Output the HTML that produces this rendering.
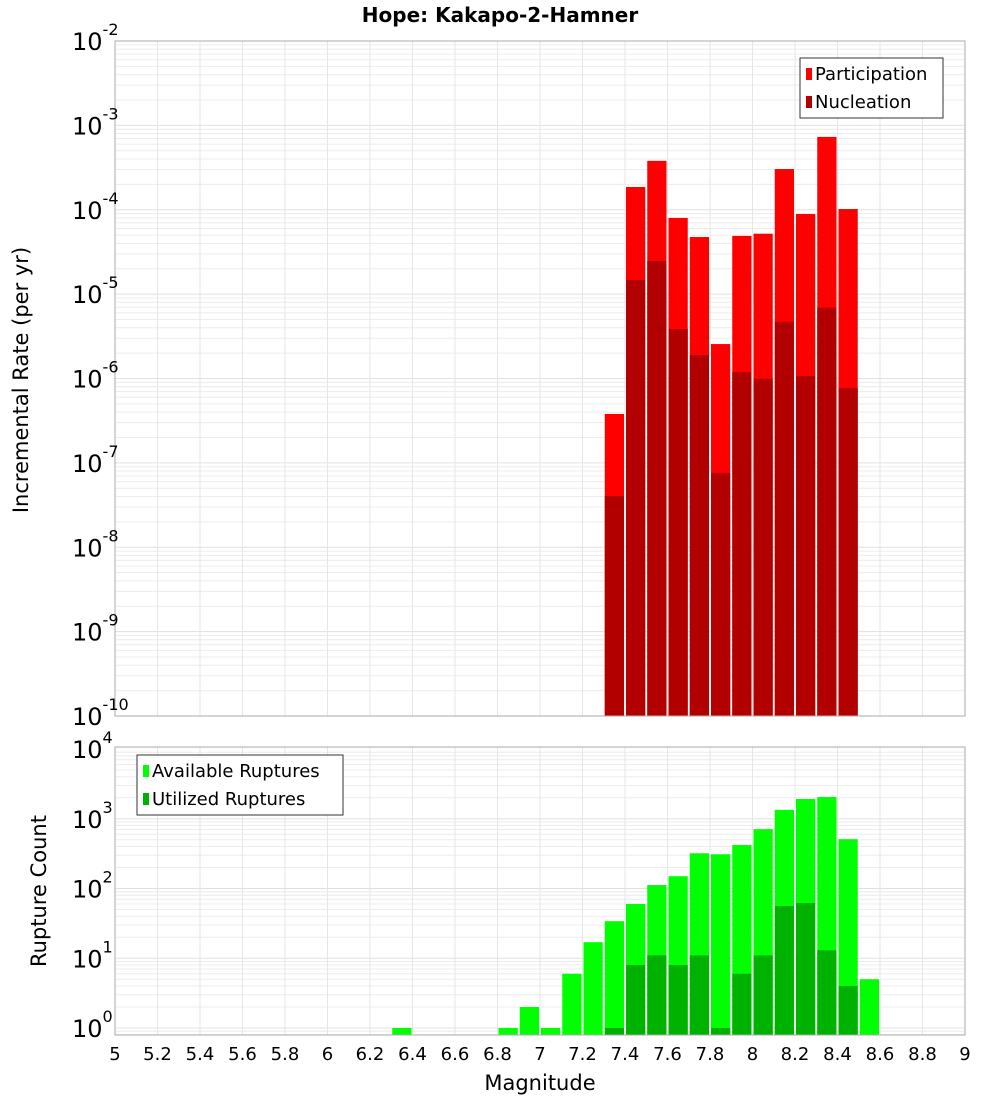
<!DOCTYPE html>
<html><head><meta charset="utf-8"><style>
body{margin:0;background:#fff}
svg{display:block;font-family:"DejaVu Sans","Liberation Sans",sans-serif}
</style></head><body>
<svg id="c" width="1000" height="1100" xmlns="http://www.w3.org/2000/svg">
<text x="500" y="22" text-anchor="middle" font-size="20" font-weight="bold">Hope: Kakapo-2-Hamner</text>
<text transform="translate(28,380) rotate(-90)" text-anchor="middle" font-size="21">Incremental Rate (per yr)</text>
<text transform="translate(46,891) rotate(-90)" text-anchor="middle" font-size="21">Rupture Count</text>
<text x="540" y="1090" text-anchor="middle" font-size="21">Magnitude</text>
<g id="g"></g>
</svg>
<script>
const bins=[7.35,7.45,7.55,7.65,7.75,7.85,7.95,8.05,8.15,8.25,8.35,8.45];
const participation=[3.8e-7,1.86e-4,3.8e-4,8.0e-5,4.75e-5,2.56e-6,4.9e-5,5.2e-5,3.04e-4,8.9e-5,7.3e-4,1.02e-4];
const nucleation=[4.05e-8,1.47e-5,2.47e-5,3.86e-6,1.9e-6,7.6e-8,1.19e-6,9.9e-7,4.7e-6,1.07e-6,6.9e-6,7.7e-7];
const countBins=[6.35,6.85,6.95,7.05,7.15,7.25,7.35,7.45,7.55,7.65,7.75,7.85,7.95,8.05,8.15,8.25,8.35,8.45,8.55];
const available=[1,1,2,1,6,17,34,60,112,150,320,310,420,710,1340,1920,2050,510,5];
const utilized=[0,0,0,0,0,0,1,8,11,8,11,1,6,11,56,62,13,4,0];
const xTicks=[5,5.2,5.4,5.6,5.8,6,6.2,6.4,6.6,6.8,7,7.2,7.4,7.6,7.8,8,8.2,8.4,8.6,8.8,9];
const topExp=[-10,-9,-8,-7,-6,-5,-4,-3,-2];
const botExp=[0,1,2,3,4];

const NS="http://www.w3.org/2000/svg",G=document.getElementById('g');
function el(t,a,p){const e=document.createElementNS(NS,t);for(const k in a)e.setAttribute(k,a[k]);(p||G).appendChild(e);return e;}
const X0=115,X1=965;
const x=m=>X0+(m-5)/(9-5)*(X1-X0);
const T={top:41,bot:716,lo:-10,hi:-2};
const B={top:747,bot:1035,lo:-0.1,hi:4};
B.dec=(1028-749)/4;
const yT=v=>T.bot-(Math.log10(v)-T.lo)/(T.hi-T.lo)*(T.bot-T.top);
const yB=v=>1028-Math.log10(v)*B.dec;

function panel(P,yf,lo,hi,name){
  el('rect',{x:X0,y:P.top,width:X1-X0,height:P.bot-P.top,fill:'#fff'});
  for(let e=Math.floor(lo);e<hi;e++)for(let k=1;k<10;k++){const yy=yf(k*Math.pow(10,e));if(yy<P.top||yy>P.bot)continue;
    const l=el('line',{x1:X0,x2:X1,y1:yy,y2:yy,stroke:k==1?'#e0e0e0':'#ececec','stroke-width':1});
    }
  xTicks.forEach(t=>{const l=el('line',{x1:x(t),x2:x(t),y1:P.top,y2:P.bot,stroke:'#e6e6e6'});
    });
}
panel(T,yT,-10,-2,'top');
panel(B,yB,-1,4,'bottom');

const bw=x(5.1)-x(5);
bins.forEach((m,i)=>{
  const r=el('rect',{x:x(m-0.05)+1,y:yT(participation[i]),width:bw-2,height:T.bot-yT(participation[i]),fill:'#ff0000'});
  
  const n=el('rect',{x:x(m-0.05)+1,y:yT(nucleation[i]),width:bw-2,height:T.bot-yT(nucleation[i]),fill:'#b20000'});
  
});
countBins.forEach((m,i)=>{
  if(available[i]>0){const r=el('rect',{x:x(m-0.05)+1,y:yB(available[i]),width:bw-2,height:B.bot-yB(available[i]),fill:'#00ff00'});
  }
  if(utilized[i]>0){const n=el('rect',{x:x(m-0.05)+1,y:yB(utilized[i]),width:bw-2,height:B.bot-yB(utilized[i]),fill:'#00b200'});
  }
});
[T,B].forEach(P=>{const f=el('rect',{x:X0,y:P.top,width:X1-X0,height:P.bot-P.top,fill:'none',stroke:'#aaa'});
  });

function ylab(yy,e){const t=el('text',{x:107,y:yy+9,'text-anchor':'end','font-size':24});
  
  t.textContent='10';const s=el('tspan',{dy:-15,'font-size':16},t);s.textContent=e;
  t.setAttribute('x',72);t.setAttribute('text-anchor','start');}
topExp.forEach(e=>ylab(yT(Math.pow(10,e)),e));
botExp.forEach(e=>ylab(yB(Math.pow(10,e)),e));
xTicks.forEach(t=>{const l=el('text',{x:x(t),y:1060,'text-anchor':'middle','font-size':18});
  l.textContent=String(t);});

function legend(x0,y0,w,items,name){
  const b=el('rect',{x:x0,y:y0,width:w,height:60,fill:'#fff',stroke:'#333'});
  
  items.forEach((it,i)=>{const s=el('rect',{x:x0+6,y:y0+10+i*28,width:6,height:12,fill:it[1]});
    
    const t=el('text',{x:x0+15,y:y0+22+i*28,'font-size':18});
    t.textContent=it[0];});
}
legend(800,58,143,[['Participation','#ff0000'],['Nucleation','#b20000']],'top-legend');
legend(137,755,206,[['Available Ruptures','#00ff00'],['Utilized Ruptures','#00b200']],'bottom-legend');
</script>
</body></html>
